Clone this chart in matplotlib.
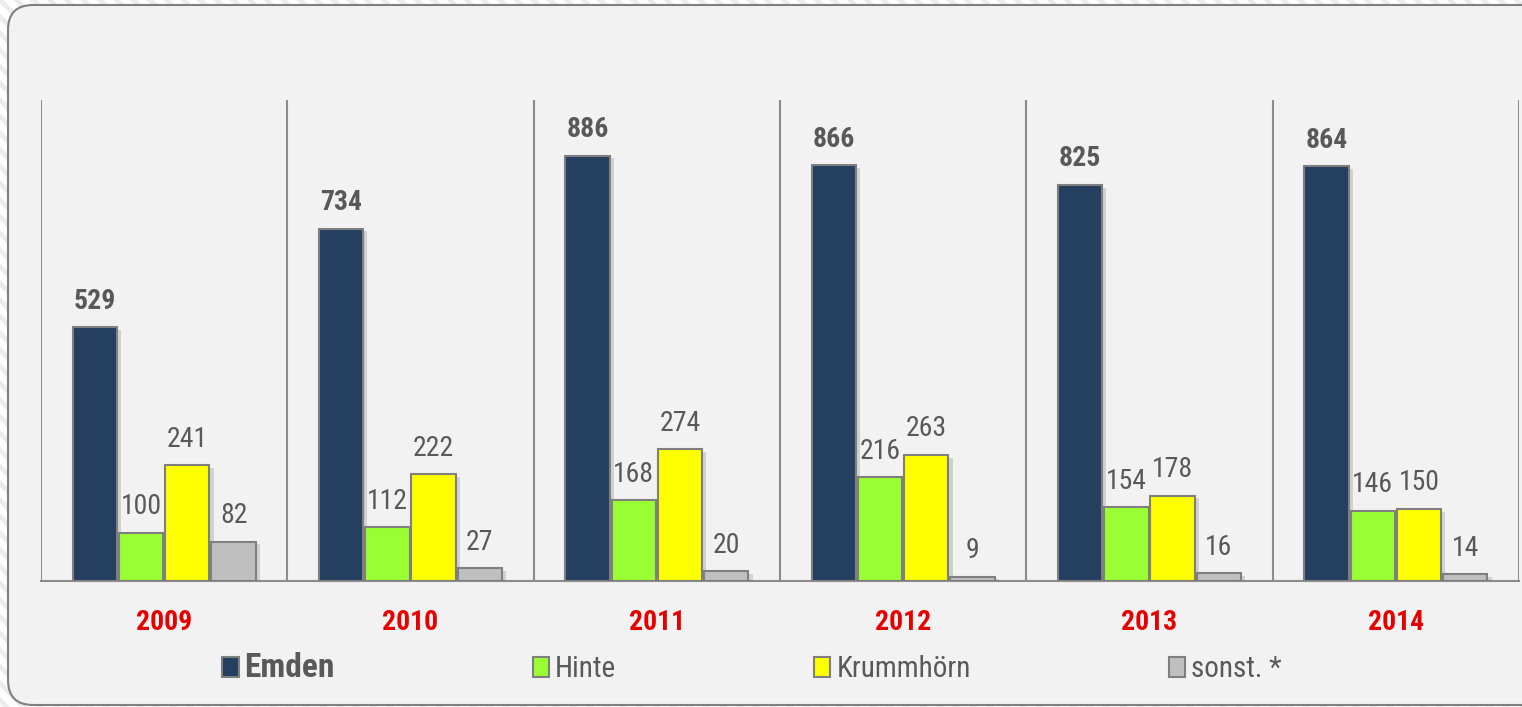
import matplotlib
matplotlib.use('Agg')
import matplotlib.pyplot as plt
import matplotlib.patheffects as pe
from matplotlib import font_manager
from matplotlib.patches import Rectangle, FancyBboxPatch
import numpy as np

# 数据
years = ["2009", "2010", "2011", "2012", "2013", "2014"]
emden = [529, 734, 886, 866, 825, 864]
hinte = [100, 112, 168, 216, 154, 146]
krummhoern = [241, 222, 274, 263, 178, 150]
sonst = [82, 27, 20, 9, 16, 14]

series_names = ["Emden", "Hinte", "Krummhörn", "sonst. *"]
series_colors = ["#243f60", "#99ff33", "#ffff00", "#bfbfbf"]

names = {f.name for f in font_manager.fontManager.ttflist}
font = 'Liberation Sans'
for cand in ['Liberation Sans Narrow', 'Arial Narrow', 'Roboto Condensed']:
    if cand in names:
        font = cand
        break
plt.rcParams['font.family'] = [font, 'DejaVu Sans']
plt.rcParams['hatch.linewidth'] = 3.5
plt.rcParams['hatch.color'] = '#ececec'

W, H = 1522, 707
fig = plt.figure(figsize=(W / 100, H / 100), dpi=100)
fig.patch.set_facecolor('white')

# 背景斜纹 + 圆角框
bg = Rectangle((0, 0), 1, 1, transform=fig.transFigure, facecolor='white',
               edgecolor='#ececec', hatch='\\\\', linewidth=0, zorder=-20)
fig.patches.append(bg)
box = FancyBboxPatch((0.08, 0.02), 15.4, 7.0,
                     boxstyle="round,pad=0,rounding_size=0.25",
                     transform=fig.dpi_scale_trans, facecolor='#f2f2f2',
                     edgecolor='#7f7f7f', linewidth=1.5, zorder=-10)
fig.patches.append(box)

ax = fig.add_axes([41 / W, 1 - 581 / H, (1519 - 41) / W, (581 - 100) / H])
ax.set_facecolor('none')

x = np.arange(len(years))
width = 0.18
step = 0.188
data = [emden, hinte, krummhoern, sonst]
shadow = [pe.SimplePatchShadow(offset=(3, -2), alpha=0.18, shadow_rgbFace='#404040'),
          pe.Normal()]

for i, (vals, col, name) in enumerate(zip(data, series_colors, series_names)):
    bars = ax.bar(x + (i - 1.5) * step, vals, width, color=col,
                  edgecolor='#7f7f7f', linewidth=1.5, label=name, zorder=3)
    for b in bars:
        b.set_path_effects(shadow)
    ax.bar_label(bars, labels=[str(v) for v in vals], padding=9,
                 fontsize=20, color='#595959',
                 fontweight='bold' if i == 0 else 'normal')

ax.set_xlim(-0.5, len(years) - 0.5)
ax.set_ylim(0, 1002)
ax.vlines(np.arange(len(years) + 1) - 0.5, 0, 1002, color='#8c8c8c',
          linewidth=1.5, zorder=1)

for s in ['top', 'right', 'left']:
    ax.spines[s].set_visible(False)
ax.spines['bottom'].set_color('#8c8c8c')
ax.spines['bottom'].set_linewidth(1.5)
ax.set_yticks([])
ax.set_xticks(x)
ax.set_xticklabels(years, color='#e60000', fontweight='bold', fontsize=20)
ax.tick_params(axis='x', length=0, pad=20)

handles, labels = ax.get_legend_handles_labels()
leg = fig.legend(handles, labels, ncol=4, loc='center',
                 bbox_to_anchor=(752 / W, 1 - 668 / H), frameon=False,
                 fontsize=21, handlelength=0.55, handleheight=0.7,
                 handletextpad=0.2, columnspacing=6.8, labelcolor='#595959')
leg.get_texts()[0].set_fontweight('bold')
leg.get_texts()[0].set_fontsize(24)
for h in leg.legend_handles:
    h.set_path_effects([])

fig.savefig('out.png', dpi=100)
